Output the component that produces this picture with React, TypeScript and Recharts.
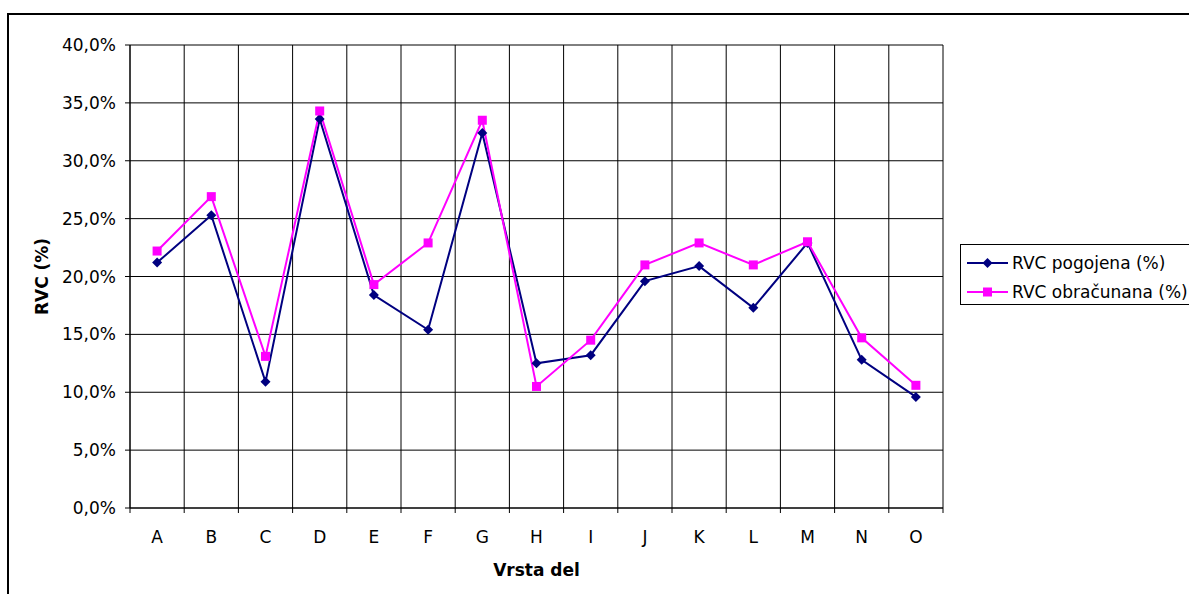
import { LineChart, Line, XAxis, YAxis, CartesianGrid, Legend, Label } from 'recharts';

const categories = ['A', 'B', 'C', 'D', 'E', 'F', 'G', 'H', 'I', 'J', 'K', 'L', 'M', 'N', 'O'];
const rvcPogojena = [21.2, 25.3, 10.9, 33.6, 18.4, 15.4, 32.4, 12.5, 13.2, 19.6, 20.9, 17.3, 22.9, 12.8, 9.6];
const rvcObracunana = [22.2, 26.9, 13.1, 34.3, 19.3, 22.9, 33.5, 10.5, 14.5, 21.0, 22.9, 21.0, 23.0, 14.7, 10.6];
const yTicks = [0, 5, 10, 15, 20, 25, 30, 35, 40];

const NAVY = '#000080';
const MAGENTA = '#FF00FF';
const FONT = '"DejaVu Sans", Verdana, sans-serif';

// plot box
const W = 1189;
const H = 594;
const PLOT_LEFT = 130;
const PLOT_RIGHT = 943;
const PLOT_TOP = 45;
const PLOT_BOTTOM = 508;
const BAND = (PLOT_RIGHT - PLOT_LEFT) / categories.length;

const data = categories.map((cat, i) => ({
  cat,
  pogojena: rvcPogojena[i],
  obracunana: rvcObracunana[i],
}));

const fmtPct = (v: number) => `${v.toFixed(1).replace('.', ',')}%`;

const Diamond = ({ cx, cy, color = NAVY }: any) => (
  <path d={`M${cx},${cy - 5}L${cx + 5},${cy}L${cx},${cy + 5}L${cx - 5},${cy}Z`} fill={color} />
);

const Square = ({ cx, cy, color = MAGENTA }: any) => (
  <rect x={cx - 4.5} y={cy - 4.5} width={9} height={9} fill={color} />
);

// category labels sit in the middle of each band, tick marks on the band edges
const CategoryTick = ({ x, payload, index }: any) => {
  const half = BAND / 2;
  return (
    <g>
      <line x1={x - half} x2={x - half} y1={PLOT_BOTTOM} y2={PLOT_BOTTOM + 5} stroke="#000" />
      {index === categories.length - 1 && (
        <line x1={x + half} x2={x + half} y1={PLOT_BOTTOM} y2={PLOT_BOTTOM + 5} stroke="#000" />
      )}
      <text x={x} y={542.5} textAnchor="middle" fill="#000" fontSize={17} fontFamily={FONT}>
        {payload.value}
      </text>
    </g>
  );
};

const LegendBox = () => {
  const rows = [
    { label: 'RVC pogojena (%)', color: NAVY, marker: 'diamond' },
    { label: 'RVC obračunana (%)', color: MAGENTA, marker: 'square' },
  ];
  return (
    <div
      style={{
        border: '1px solid #000',
        width: 250,
        height: 61,
        boxSizing: 'border-box',
        paddingTop: 3,
        fontFamily: FONT,
        fontSize: 17,
        color: '#000',
        background: '#fff',
      }}
    >
      {rows.map((r) => (
        <div key={r.label} style={{ display: 'flex', alignItems: 'center', height: 29 }}>
          <svg width={50} height={16} style={{ marginLeft: 5 }}>
            <line x1={1} x2={42} y1={8} y2={8} stroke={r.color} strokeWidth={2} />
            {r.marker === 'diamond' ? (
              <Diamond cx={21.5} cy={8} color={r.color} />
            ) : (
              <Square cx={21.5} cy={8} color={r.color} />
            )}
          </svg>
          <span style={{ marginLeft: -4, whiteSpace: 'nowrap' }}>{r.label}</span>
        </div>
      ))}
    </div>
  );
};

export default function App() {
  return (
    <div
      style={{
        position: 'fixed',
        left: 0,
        top: 0,
        width: W,
        height: H,
        overflow: 'hidden',
        background: '#fff',
        fontFamily: FONT,
      }}
    >
      <div
        style={{
          position: 'absolute',
          left: 7,
          top: 13,
          width: 1300,
          height: 700,
          border: '2px solid #000',
        }}
      />
      <div style={{ position: 'absolute', left: 0, top: 0 }}>
        <LineChart
          width={W}
          height={H}
          data={data}
          margin={{ top: PLOT_TOP, right: W - PLOT_RIGHT, bottom: 8, left: 30 }}
        >
          <CartesianGrid
            stroke="#000"
            verticalCoordinatesGenerator={() =>
              Array.from({ length: categories.length + 1 }, (_, i) => PLOT_LEFT + i * BAND)
            }
          />
          <XAxis
            dataKey="cat"
            height={H - 8 - PLOT_BOTTOM}
            padding={{ left: BAND / 2, right: BAND / 2 }}
            interval={0}
            tickLine={false}
            axisLine={{ stroke: '#000' }}
            tick={<CategoryTick />}
          >
            <Label
              value="Vrsta del"
              position="insideBottom"
              offset={10}
              fill="#000"
              fontSize={17}
              fontWeight="bold"
              fontFamily={FONT}
            />
          </XAxis>
          <YAxis
            width={PLOT_LEFT - 30}
            domain={[0, 40]}
            ticks={yTicks}
            interval={0}
            tickFormatter={fmtPct}
            tickSize={5}
            tickMargin={9}
            tickLine={{ stroke: '#000' }}
            axisLine={{ stroke: '#000' }}
            tick={{ fill: '#000', fontSize: 17, fontFamily: FONT }}
          >
            <Label
              content={() => (
                <text
                  x={42}
                  y={(PLOT_TOP + PLOT_BOTTOM) / 2}
                  transform={`rotate(-90 42 ${(PLOT_TOP + PLOT_BOTTOM) / 2})`}
                  textAnchor="middle"
                  dominantBaseline="central"
                  fill="#000"
                  fontSize={17}
                  fontWeight="bold"
                  fontFamily={FONT}
                >
                  RVC (%)
                </text>
              )}
            />
          </YAxis>
          <Legend
            layout="horizontal"
            verticalAlign="middle"
            align="center"
            wrapperStyle={{ position: 'absolute', left: 960, top: 244, width: 250, height: 61 }}
            content={() => <LegendBox />}
          />
          <Line
            type="linear"
            dataKey="pogojena"
            name="RVC pogojena (%)"
            stroke={NAVY}
            strokeWidth={2}
            dot={(p: any) => <Diamond key={`p-${p.index}`} cx={p.cx} cy={p.cy} />}
            activeDot={false}
            isAnimationActive={false}
          />
          <Line
            type="linear"
            dataKey="obracunana"
            name="RVC obračunana (%)"
            stroke={MAGENTA}
            strokeWidth={2}
            dot={(p: any) => <Square key={`o-${p.index}`} cx={p.cx} cy={p.cy} />}
            activeDot={false}
            isAnimationActive={false}
          />
        </LineChart>
      </div>
    </div>
  );
}
